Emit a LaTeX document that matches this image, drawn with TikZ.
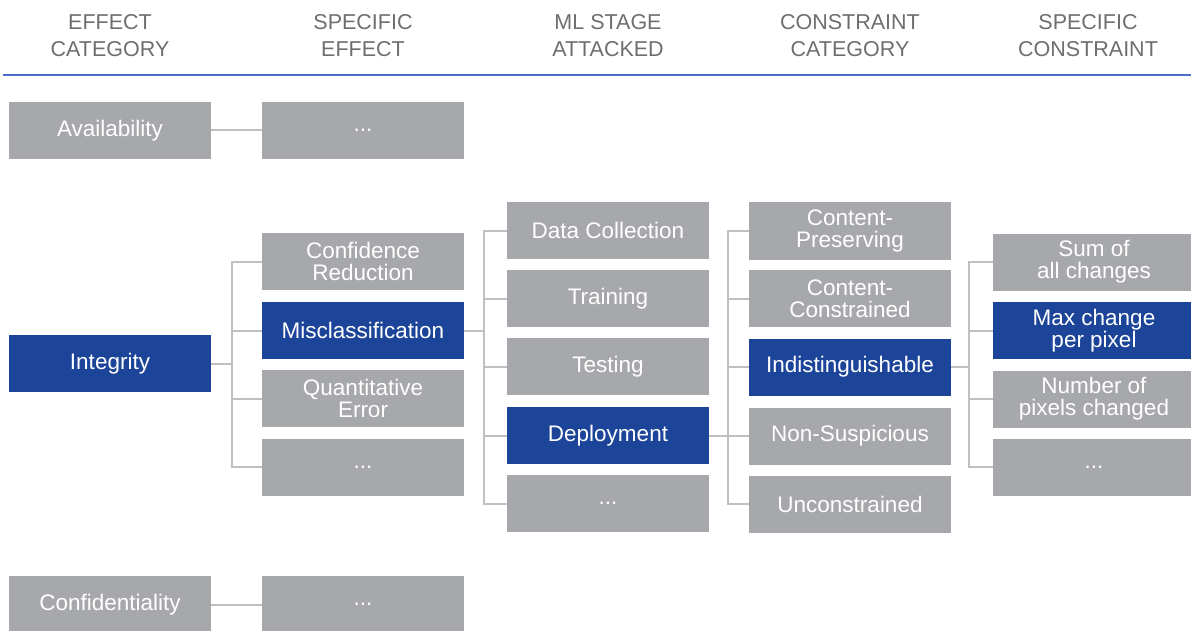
\documentclass[tikz,border=0pt]{standalone}
\usepackage{fontspec}
\setmainfont{Liberation Sans}
\definecolor{boxgray}{HTML}{A7A8AB}
\definecolor{boxblue}{HTML}{1C4599}
\definecolor{headgray}{HTML}{6D6E71}
\definecolor{linegray}{HTML}{BFC0C2}
\definecolor{ruleblue}{HTML}{4A6FC4}
\tikzset{
  gbox/.style={fill=boxgray, text=white, minimum width=202pt, minimum height=57pt, inner sep=0pt, align=center, font=\fontsize{22.5}{22}\selectfont},
  bbox/.style={gbox, fill=boxblue},
  head/.style={text=headgray, align=center, font=\fontsize{21.5}{27}\selectfont},
  conn/.style={draw=linegray, line width=2pt},
}
\begin{document}
\begin{tikzpicture}[x=1pt,y=-1pt]
\useasboundingbox (0,0) rectangle (1191,631);
% headers
\node[head] (h1) at (110,36) {EFFECT\\CATEGORY};
\node[head] (h2) at (363,36) {SPECIFIC\\EFFECT};
\node[head] (h3) at (608,36) {ML STAGE\\ATTACKED};
\node[head] (h4) at (850,36) {CONSTRAINT\\CATEGORY};
\node[head] (h5) at (1088,36) {SPECIFIC\\CONSTRAINT};
\draw[ruleblue, line width=1.2pt] (3,75) coordinate (r1) -- (1191,75) coordinate (r2);
% column 1
\node[gbox] (avail) at (110,130.5) {Availability};
\node[bbox] (integ) at (110,363.5) {Integrity};
\node[gbox] (confid) at (110,604.5) {Confidentiality};
% column 2
\node[gbox] (avdots) at (363,130.5) {...};
\node[gbox] (confred) at (363,261.5) {Confidence\\Reduction};
\node[bbox] (miscl) at (363,330.5) {Misclassification};
\node[gbox] (quant) at (363,398.5) {Quantitative\\Error};
\node[gbox] (efdots) at (363,467) {...};
\node[gbox] (cfdots) at (363,604.5) {...};
% column 3
\node[gbox] (datac) at (608,230.5) {Data Collection};
\node[gbox] (train) at (608,298.5) {Training};
\node[gbox] (test) at (608,366.5) {Testing};
\node[bbox] (deploy) at (608,435.5) {Deployment};
\node[gbox] (stdots) at (608,503.5) {...};
% column 4
\node[gbox] (cpres) at (850,231) {Content-\\Preserving};
\node[gbox] (ccons) at (850,298.5) {Content-\\Constrained};
\node[bbox] (indist) at (850,367) {Indistinguishable};
\node[gbox] (nonsus) at (850,436) {Non-Suspicious};
\node[gbox] (uncons) at (850,504) {Unconstrained};
% column 5
\node[gbox] (sumall) at (1094,262) {Sum of\\all changes};
\node[bbox] (maxch) at (1094,330.5) {Max change\\per pixel};
\node[gbox] (numpx) at (1094,399) {Number of\\pixels changed};
\node[gbox] (scdots) at (1094,467) {...};
% connectors
\draw[conn] (avail.east) -- (avdots.west);
\draw[conn] (confid.east) -- (cfdots.west);
% integrity tree
\coordinate (t1) at (232,0);
\draw[conn] (integ.east) -- (t1 |- integ.east);
\draw[conn] (confred.west) -- (t1 |- confred.west) -- (t1 |- efdots.west) -- (efdots.west);
\draw[conn] (miscl.west) -- (t1 |- miscl.west);
\draw[conn] (quant.west) -- (t1 |- quant.west);
% misclassification tree
\coordinate (t2) at (484,0);
\draw[conn] (miscl.east) -- (t2 |- miscl.east);
\draw[conn] (datac.west) -- (t2 |- datac.west) -- (t2 |- stdots.west) -- (stdots.west);
\draw[conn] (train.west) -- (t2 |- train.west);
\draw[conn] (test.west) -- (t2 |- test.west);
\draw[conn] (deploy.west) -- (t2 |- deploy.west);
% deployment tree
\coordinate (t3) at (728,0);
\draw[conn] (deploy.east) -- (t3 |- deploy.east);
\draw[conn] (cpres.west) -- (t3 |- cpres.west) -- (t3 |- uncons.west) -- (uncons.west);
\draw[conn] (ccons.west) -- (t3 |- ccons.west);
\draw[conn] (indist.west) -- (t3 |- indist.west);
\draw[conn] (nonsus.west) -- (t3 |- nonsus.west);
% indistinguishable tree
\coordinate (t4) at (969,0);
\draw[conn] (indist.east) -- (t4 |- indist.east);
\draw[conn] (sumall.west) -- (t4 |- sumall.west) -- (t4 |- scdots.west) -- (scdots.west);
\draw[conn] (maxch.west) -- (t4 |- maxch.west);
\draw[conn] (numpx.west) -- (t4 |- numpx.west);
\end{tikzpicture}
\end{document}
